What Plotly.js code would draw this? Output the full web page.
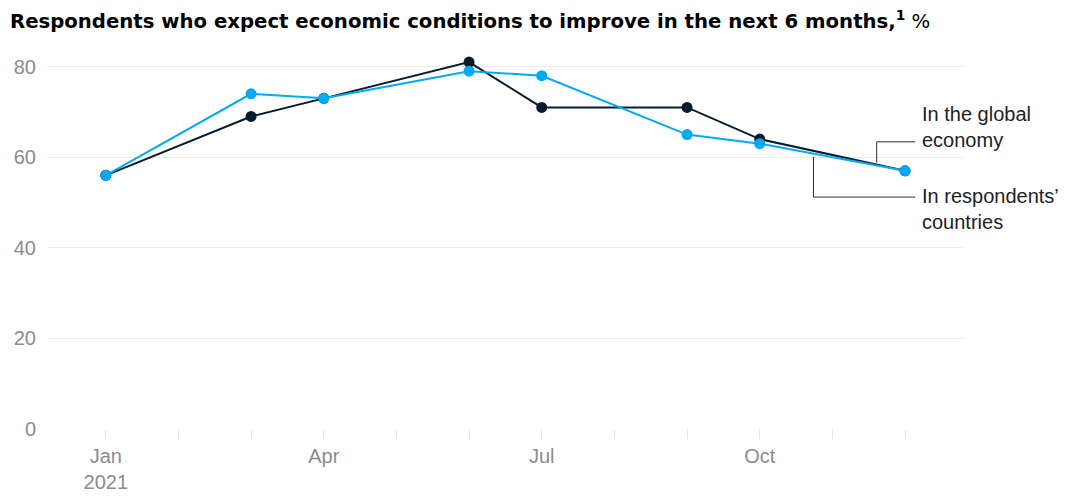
<!DOCTYPE html>
<html>
<head>
<meta charset="utf-8">
<script src="https://cdn.plot.ly/plotly-3.0.1.min.js"></script>
<style>
  html, body { margin: 0; padding: 0; background: #fff; }
  #chart { width: 1069px; height: 496px; }
</style>
</head>
<body>
<div id="chart"></div>
<script>
// ---- Data ----
const months = ['Jan','Feb','Mar','Apr','May','Jun','Jul','Aug','Sep','Oct','Nov','Dec'];
const labelledMonths = ['Jan','Apr','Jul','Oct'];
const tickLabels = ['Jan<br>2021','Apr','Jul','Oct'];
const surveyMonths = ['Jan','Mar','Apr','Jun','Jul','Sep','Oct','Dec'];
const globalEconomy = [56, 69, 73, 81, 71, 71, 64, 57];
const respondentsCountries = [56, 74, 73, 79, 78, 65, 63, 57];
const yTicks = [0, 20, 40, 60, 80];

const monthIndex = m => months.indexOf(m);
const xSurvey = surveyMonths.map(monthIndex);

const darkColor = '#051c2c';
const lightColor = '#00a9f4';
const fontFamily = '"Liberation Sans", Arial, Helvetica, sans-serif';
const titleFamily = '"DejaVu Sans", "Liberation Sans", Arial, sans-serif';

const traces = [
  {
    name: 'In the global economy',
    x: xSurvey, y: globalEconomy, text: surveyMonths,
    type: 'scatter', mode: 'lines+markers',
    line: {color: darkColor, width: 2},
    marker: {color: darkColor, size: 11},
    hoverinfo: 'text+y'
  },
  {
    name: "In respondents’ countries",
    x: xSurvey, y: respondentsCountries, text: surveyMonths,
    type: 'scatter', mode: 'lines+markers',
    line: {color: lightColor, width: 2},
    marker: {color: lightColor, size: 11},
    hoverinfo: 'text+y'
  }
];

const leaderStyle = {color: '#333333', width: 1};

const layout = {
  width: 1069, height: 496,
  margin: {l: 48, r: 106, t: 44, b: 67},
  paper_bgcolor: '#ffffff', plot_bgcolor: '#ffffff',
  showlegend: false,
  font: {family: fontFamily, size: 20, color: '#8c8c8c'},
  title: {
    text: '<b>Respondents who expect economic conditions to improve in the next 6 months,<sup>1</sup></b> %',
    font: {family: titleFamily, size: 19.7, color: '#000000'},
    xref: 'container', yref: 'container',
    x: 10/1069, xanchor: 'left',
    y: 1 - 21/496, yanchor: 'middle'
  },
  xaxis: {
    type: 'linear',
    range: [-0.795, 11.798],
    tickmode: 'array',
    tickvals: labelledMonths.map(monthIndex),
    ticktext: tickLabels,
    ticks: 'outside', ticklen: 9, tickwidth: 1, tickcolor: '#e3e3e3',
    minor: {
      tickmode: 'linear', tick0: 0, dtick: 1,
      ticks: 'outside', ticklen: 9, tickwidth: 1, tickcolor: '#e3e3e3',
      showgrid: false
    },
    showgrid: false, showline: false, zeroline: false,
    tickfont: {family: fontFamily, size: 20, color: '#8c8c8c'},
    fixedrange: true
  },
  yaxis: {
    range: [0, 85],
    tickmode: 'array', tickvals: yTicks,
    showgrid: true, gridcolor: '#ebebeb', gridwidth: 1,
    zeroline: false, showline: false, ticks: '',
    ticklabelstandoff: 11,
    tickfont: {family: fontFamily, size: 20, color: '#8c8c8c'},
    fixedrange: true
  },
  shapes: [
    {type: 'line', xref: 'x', yref: 'y', x0: 10.61, x1: 10.61, y0: 58.8, y1: 63.4, line: leaderStyle},
    {type: 'line', xref: 'x', yref: 'y', x0: 10.61, x1: 11.14, y0: 63.4, y1: 63.4, line: leaderStyle},
    {type: 'line', xref: 'x', yref: 'y', x0: 9.74, x1: 9.74, y0: 60.1, y1: 51.2, line: leaderStyle},
    {type: 'line', xref: 'x', yref: 'y', x0: 9.74, x1: 11.14, y0: 51.2, y1: 51.2, line: leaderStyle}
  ],
  annotations: [
    {
      xref: 'x', yref: 'y', x: 11.21, y: 66.7,
      xanchor: 'left', yanchor: 'middle', align: 'left',
      text: 'In the global<br>economy', showarrow: false,
      font: {family: fontFamily, size: 20, color: '#222222'}
    },
    {
      xref: 'x', yref: 'y', x: 11.21, y: 48.6,
      xanchor: 'left', yanchor: 'middle', align: 'left',
      text: 'In respondents’<br>countries', showarrow: false,
      font: {family: fontFamily, size: 20, color: '#222222'}
    }
  ]
};

Plotly.newPlot('chart', traces, layout, {displayModeBar: false, staticPlot: true});
</script>
</body>
</html>
